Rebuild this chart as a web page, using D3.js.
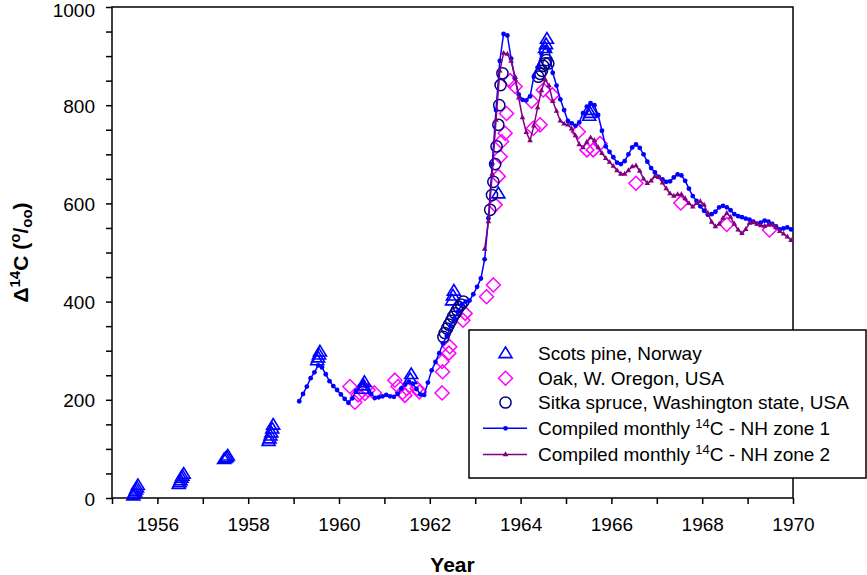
<!DOCTYPE html>
<html>
<head>
<meta charset="utf-8">
<script src="https://cdn.jsdelivr.net/npm/d3@7"></script>
<style>
  html, body { margin: 0; padding: 0; background: #fff; }
  svg { display: block; font-family: Arial, "Liberation Sans", sans-serif; }
</style>
</head>
<body>
<svg id="chart" width="867" height="575"></svg>
<script>
// ---------- DATA ----------
// Compiled monthly 14C, NH zone 1: monthly values starting Feb 1959
const zone1StartYear = 1959, zone1StartMonth = 2;
const zone1Values = [
  197,212,227,244,256,270,266,252,238,228,220,211,
  202,194,203,218,228,234,228,212,204,205,207,210,
  207,206,212,223,231,237,233,222,211,210,235,260,
  277,295,315,330,350,365,380,395,400,402,415,430,
  447,486,570,680,790,890,945,942,895,855,822,811,
  810,818,858,877,905,918,912,866,840,812,790,768,
  763,758,765,784,797,804,800,780,748,716,705,694,
  683,680,686,700,714,720,713,700,685,672,663,654,
  649,644,645,653,659,657,646,630,615,605,594,585,
  577,578,583,592,595,592,586,578,574,572,569,567,
  563,559,561,565,563,558,553,547,549,551,547
];
// Compiled monthly 14C, NH zone 2: monthly values starting Mar 1963
const zone2StartYear = 1963, zone2StartMonth = 3;
const zone2Values = [
  507,563,660,770,870,906,904,890,858,815,775,745,
  728,758,795,830,852,840,808,788,768,762,760,752,
  738,720,714,725,734,728,714,702,692,684,676,667,
  660,660,667,675,677,666,650,641,646,655,653,642,
  630,620,615,618,618,610,600,593,600,604,597,580,
  562,553,558,570,580,572,558,546,539,547,560,561,
  558,555,554,556,557,551,543,538,532,525
];
// Scots pine, Norway
const scotsYears = [1955.47,1955.49,1955.51,1955.53,1955.55,1955.57,
  1956.47,1956.49,1956.51,1956.53,1956.55,1956.58,
  1957.47,1957.50,1957.53,1957.55,
  1958.45,1958.47,1958.49,1958.51,1958.53,1958.55,
  1959.52,1959.54,1959.56,1959.58,
  1960.52,1960.54,1960.56,
  1961.57,1961.59,
  1962.49,1962.51,1962.53,
  1963.51,
  1964.54,1964.56,1964.58,
  1965.51,1965.53,1965.55];
const scotsValues = [5,9,13,17,21,26,
  28,32,36,41,45,49,
  79,81,83,86,
  116,121,127,133,141,149,
  280,286,292,298,
  222,229,236,
  242,252,
  402,412,422,
  620,
  916,924,935,
  778,784,790];
// Oak, W. Oregon, USA
const oakYears = [1960.24,1960.35,1960.42,1960.57,1960.64,1960.78,
  1961.23,1961.30,1961.40,1961.45,1961.49,1961.72,1961.77,
  1962.27,1962.28,1962.27,1962.42,1962.44,1962.73,1962.78,
  1963.25,1963.40,1963.44,1963.51,1963.55,1963.58,1963.66,1963.69,1963.77,1963.88,
  1964.24,1964.28,1964.43,1964.50,1964.70,
  1965.27,1965.46,1965.60,1965.75,
  1966.54,1967.53,1968.54,1969.48];
const oakValues = [227,195,210,213,220,214,
  240,227,215,209,223,223,216,
  214,257,278,295,308,362,376,
  410,434,597,655,695,726,743,783,850,838,
  808,753,760,831,821,
  746,709,709,722,
  641,601,557,546];
// Sitka spruce, Washington state, USA
const sitkaYears = [1962.30,1962.33,1962.38,1962.42,1962.47,1962.51,1962.56,1962.60,1962.64,1962.69,1962.74,
  1963.33,1963.37,1963.40,1963.44,1963.47,1963.51,1963.53,1963.56,1963.60,
  1964.39,1964.43,1964.47,1964.50,1964.54,1964.57,1964.61];
const sitkaValues = [328,336,345,353,361,369,376,383,389,394,400,
  587,617,644,680,716,760,800,841,865,
  858,864,870,880,885,892,885];
// Axis ticks
const xTickValues = [1955,1956,1957,1958,1959,1960,1961,1962,1963,1964,1965,1966,1967,1968,1969,1970];
const xLabelValues = [1956,1958,1960,1962,1964,1966,1968,1970];
const yTickValues = [0,50,100,150,200,250,300,350,400,450,500,550,600,650,700,750,800,850,900,950,1000];
const yLabelValues = [0,200,400,600,800,1000];

// ---------- LAYOUT ----------
const svg = d3.select("#chart");
const L = 112, R = 793, T = 7, B = 498;
const x = d3.scaleLinear().domain([1955, 1970]).range([L, R]);
const y = d3.scaleLinear().domain([0, 1000]).range([B, T]);

const blue = "#0000ff", magenta = "#ff00ff", navy = "#000080", purple = "#800080";

function monthly(startYear, startMonth, vals) {
  return vals.map((v, i) => ({ t: startYear + (startMonth - 1 + i + 0.5) / 12, v }));
}
const zone1 = monthly(zone1StartYear, zone1StartMonth, zone1Values);
const zone2 = monthly(zone2StartYear, zone2StartMonth, zone2Values);
const scots = scotsYears.map((t, i) => ({ t, v: scotsValues[i] }));
const oak = oakYears.map((t, i) => ({ t, v: oakValues[i] }));
const sitka = sitkaYears.map((t, i) => ({ t, v: sitkaValues[i] }));

const triPath = "M0,-6.3L6.5,4.3L-6.5,4.3Z";
const diaPath = "M0,-7L7,0L0,7L-7,0Z";
const smallTri = "M0,-3.2L2.8,1.7L-2.8,1.7Z";

// ---------- AXES ----------
const xAxis = d3.axisBottom(x).tickValues(xTickValues).tickSize(6).tickPadding(14)
  .tickFormat(d => xLabelValues.includes(d) ? String(d) : "");
const gx = svg.append("g").attr("transform", `translate(0,${B})`).call(xAxis);
gx.select(".domain").remove();
gx.selectAll("line").attr("stroke", "#000").attr("stroke-width", 1.5);
gx.selectAll("text").attr("font-size", 19).attr("fill", "#000")
  .attr("font-family", "Arial, 'Liberation Sans', sans-serif");

const yAxis = d3.axisLeft(y).tickValues(yTickValues).tickSize(6).tickPadding(11)
  .tickFormat(d => yLabelValues.includes(d) ? String(d) : "");
const gy = svg.append("g").attr("transform", `translate(${L},0)`).call(yAxis);
gy.select(".domain").remove();
gy.selectAll("line").attr("stroke", "#000").attr("stroke-width", 1.5);
gy.selectAll("text").attr("font-size", 19).attr("fill", "#000")
  .attr("dy", d => d === 1000 ? "0.5em" : "0.37em")
  .attr("font-family", "Arial, 'Liberation Sans', sans-serif");

// frame
svg.append("rect").attr("x", L).attr("y", T).attr("width", R - L).attr("height", B - T)
  .attr("fill", "none").attr("stroke", "#000").attr("stroke-width", 1.5);

// ---------- MARKS ----------
const plot = svg.append("g");

plot.selectAll(".oak").data(oak).join("path")
  .attr("d", diaPath).attr("transform", d => `translate(${x(d.t)},${y(d.v)})`)
  .attr("fill", "none").attr("stroke", magenta).attr("stroke-width", 1.5);

plot.selectAll(".scots").data(scots).join("path")
  .attr("d", triPath).attr("transform", d => `translate(${x(d.t)},${y(d.v)})`)
  .attr("fill", "none").attr("stroke", blue).attr("stroke-width", 1.6);

plot.selectAll(".sitka").data(sitka).join("circle")
  .attr("cx", d => x(d.t)).attr("cy", d => y(d.v)).attr("r", 5.6)
  .attr("fill", "none").attr("stroke", navy).attr("stroke-width", 1.5);

const line = d3.line().x(d => x(d.t)).y(d => y(d.v));

plot.append("path").datum(zone1).attr("d", line)
  .attr("fill", "none").attr("stroke", blue).attr("stroke-width", 1.5);
plot.selectAll(".z1").data(zone1).join("circle")
  .attr("cx", d => x(d.t)).attr("cy", d => y(d.v)).attr("r", 2.4).attr("fill", blue);

plot.append("path").datum(zone2).attr("d", line)
  .attr("fill", "none").attr("stroke", purple).attr("stroke-width", 1.5);
plot.selectAll(".z2").data(zone2).join("path")
  .attr("d", smallTri).attr("transform", d => `translate(${x(d.t)},${y(d.v)})`)
  .attr("fill", purple);

// ---------- AXIS TITLES ----------
svg.append("text").attr("x", (L + R) / 2).attr("y", 572).attr("text-anchor", "middle")
  .attr("font-size", 21).attr("font-weight", "bold").text("Year");

const yt = svg.append("text")
  .attr("transform", `translate(28,${(T + B) / 2}) rotate(-90)`)
  .attr("text-anchor", "middle").attr("font-size", 21).attr("font-weight", "bold");
yt.append("tspan").text("Δ");
yt.append("tspan").attr("font-size", 15).attr("dy", -8).text("14");
yt.append("tspan").attr("dy", 8).text("C (");
yt.append("tspan").attr("font-size", 15).attr("dy", -8).text("o");
yt.append("tspan").attr("dy", 8).text("/");
yt.append("tspan").attr("font-size", 15).attr("dy", 4).text("oo");
yt.append("tspan").attr("dy", -4).text(")");

// ---------- LEGEND ----------
const lg = svg.append("g");
lg.append("rect").attr("x", 469).attr("y", 330).attr("width", 397).attr("height", 148)
  .attr("fill", "#fff").attr("stroke", "#000").attr("stroke-width", 1.5);
const symX = 505.5, textX = 538;
const rows = [353.3, 378.3, 402.5, 428.3, 454.5];

lg.append("path").attr("d", triPath).attr("transform", `translate(${symX},${rows[0]})`)
  .attr("fill", "none").attr("stroke", blue).attr("stroke-width", 1.6);
lg.append("path").attr("d", diaPath).attr("transform", `translate(${symX},${rows[1]})`)
  .attr("fill", "none").attr("stroke", magenta).attr("stroke-width", 1.5);
lg.append("circle").attr("cx", symX).attr("cy", rows[2]).attr("r", 5.6)
  .attr("fill", "none").attr("stroke", navy).attr("stroke-width", 1.5);
lg.append("line").attr("x1", 483).attr("x2", 527).attr("y1", rows[3]).attr("y2", rows[3])
  .attr("stroke", blue).attr("stroke-width", 1.5);
lg.append("circle").attr("cx", symX).attr("cy", rows[3]).attr("r", 2.4).attr("fill", blue);
lg.append("line").attr("x1", 483).attr("x2", 527).attr("y1", rows[4]).attr("y2", rows[4])
  .attr("stroke", purple).attr("stroke-width", 1.5);
lg.append("path").attr("d", smallTri).attr("transform", `translate(${symX},${rows[4]})`)
  .attr("fill", purple);

const legendTexts = ["Scots pine, Norway", "Oak, W. Oregon, USA", "Sitka spruce, Washington state, USA"];
legendTexts.forEach((s, i) => {
  lg.append("text").attr("x", textX).attr("y", rows[i] + 6.5).attr("font-size", 19).text(s);
});
["1", "2"].forEach((z, k) => {
  const t = lg.append("text").attr("x", textX).attr("y", rows[3 + k] + 6.5).attr("font-size", 19);
  t.append("tspan").text("Compiled monthly ");
  t.append("tspan").attr("font-size", 13).attr("dy", -7).text("14");
  t.append("tspan").attr("dy", 7).text("C - NH zone " + z);
});
</script>
</body>
</html>
